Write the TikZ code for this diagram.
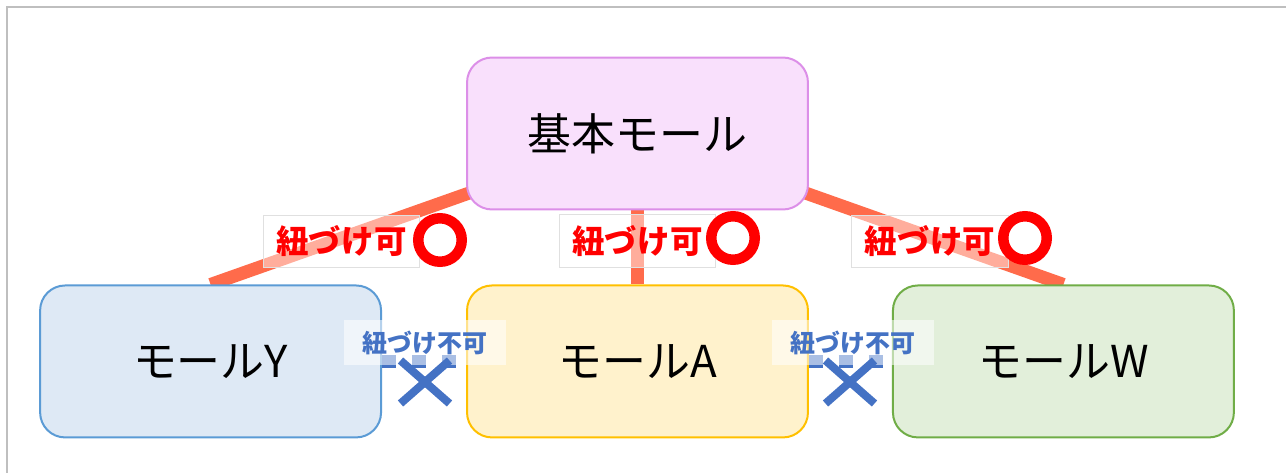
\documentclass[tikz,border=0pt]{standalone}
\usepackage{fontspec}
\setmainfont{Noto Sans CJK JP}
\usetikzlibrary{positioning}
\usetikzlibrary{shapes.misc}
\usetikzlibrary{backgrounds}

\definecolor{basefill}{HTML}{F9E0FC}
\definecolor{basedraw}{HTML}{DC8FE8}
\definecolor{yfill}{HTML}{DEE9F5}
\definecolor{ydraw}{HTML}{5B9BD5}
\definecolor{afill}{HTML}{FFF2CC}
\definecolor{adraw}{HTML}{FFC000}
\definecolor{wfill}{HTML}{E2EFDA}
\definecolor{wdraw}{HTML}{70AD47}
\definecolor{linkorange}{HTML}{FF6B4B}
\definecolor{okred}{HTML}{FF0000}
\definecolor{ngblue}{HTML}{4472C4}
\definecolor{framegray}{HTML}{BFBFBF}

\tikzset{
  mall/.style={draw, rounded corners=0.5cm, line width=0.04cm, minimum width=6.82cm,
    minimum height=3.04cm, font=\fontsize{25}{30}\selectfont},
  link/.style={draw=linkorange, line width=0.26cm},
  nolink/.style={draw=ngblue, line width=0.26cm, dash pattern=on 0.28cm off 0.32cm},
  okbox/.style={fill=white, fill opacity=0.45, text opacity=1, draw=black!12, line width=0.02cm,
    minimum width=3.14cm, minimum height=1.06cm, text=okred,
    font=\bfseries\fontsize{18.5}{22}\selectfont},
  okring/.style={circle, draw=okred, line width=0.21cm, minimum size=0.87cm, inner sep=0pt},
  ngbox/.style={fill=white, fill opacity=0.55, text opacity=1, minimum width=3.24cm,
    minimum height=0.9cm, text=ngblue, font=\bfseries\fontsize{14.2}{17}\selectfont},
  ngmark/.style={cross out, draw=ngblue, line width=0.16cm, minimum width=0.82cm,
    minimum height=0.7cm, inner sep=0pt}
}

\begin{document}
\begin{tikzpicture}[x=0.02cm, y=-0.02cm]
  \useasboundingbox (0,0) rectangle (1286,473);
  \draw[framegray, line width=0.04cm] (7,473) -- (7,7) -- (1286,7);

  \node[mall, fill=basefill, draw=basedraw] (base) at (637.5,133.5) {基本モール};
  \node[mall, fill=afill, draw=adraw, below=1.48cm of base] (mA) {モールA};
  \node[mall, fill=yfill, draw=ydraw, left=1.68cm of mA] (mY) {モールY};
  \node[mall, fill=wfill, draw=wdraw, right=1.66cm of mA] (mW) {モールW};

  \begin{scope}[on background layer]
    \draw
    (base.center) edge[link] (mY.north)
    (base.center) edge[link] (mA.north)
    (base.center) edge[link] (mW.north);
  \end{scope}

  \node[okbox] (ok1) at (341.5,241.5) {紐づけ可};
  \node[okbox] (ok2) at (637.5,241) {紐づけ可};
  \node[okbox] (ok3) at (930,241.5) {紐づけ可};
  \node[okring] (ring1) at (440,240) {};
  \node[okring] (ring2) at (733,238) {};
  \node[okring] (ring3) at (1025,238) {};

  \draw
  (mY.east) edge[nolink] (mA.west)
  (mA.east) edge[nolink] (mW.west);

  \node[ngbox] (ng1) at (425,342.5) {紐づけ不可};
  \node[ngbox] (ng2) at (853,342.5) {紐づけ不可};
  \node[ngmark] (x1) at (425,382) {};
  \node[ngmark] (x2) at (850,382) {};
\end{tikzpicture}
\end{document}
